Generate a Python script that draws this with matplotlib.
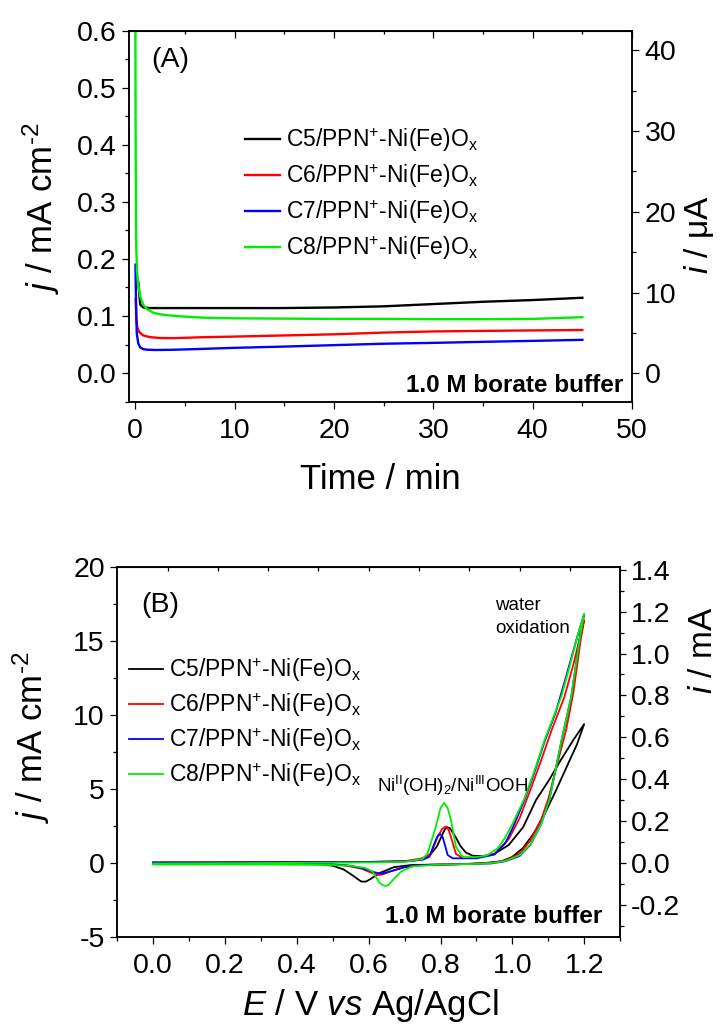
import matplotlib
matplotlib.use("Agg")
import matplotlib.pyplot as plt
from matplotlib.ticker import MultipleLocator, FormatStrFormatter

plt.rcParams['font.family'] = ['Liberation Sans', 'DejaVu Sans']
plt.rcParams['mathtext.fontset'] = 'custom'
plt.rcParams['mathtext.rm'] = 'Liberation Sans'
plt.rcParams['mathtext.it'] = 'Liberation Sans:italic'
plt.rcParams['mathtext.bf'] = 'Liberation Sans:bold'
plt.rcParams['axes.unicode_minus'] = False

labels = ['C5/PPN$^{+}$-Ni(Fe)O$_{\\mathrm{x}}$', 'C6/PPN$^{+}$-Ni(Fe)O$_{\\mathrm{x}}$',
          'C7/PPN$^{+}$-Ni(Fe)O$_{\\mathrm{x}}$', 'C8/PPN$^{+}$-Ni(Fe)O$_{\\mathrm{x}}$']
colors = ['black', 'red', 'blue', '#00ee00']

# ---- panel A : chronoamperometry (time / min, j / mA cm-2)
t_c5 = [0.3, 0.5, 0.8, 1.5, 3, 6, 10, 15, 20, 25, 30, 35, 40, 45]
j_c5 = [0.16, 0.12, 0.115, 0.114, 0.114, 0.114, 0.114, 0.114, 0.115, 0.117, 0.121, 0.125, 0.128, 0.132]
t_c6 = [0.05, 0.1, 0.2, 0.4, 0.8, 1.5, 2.5, 4, 7, 10, 15, 20, 25, 30, 35, 40, 45]
j_c6 = [0.13, 0.095, 0.08, 0.072, 0.066, 0.063, 0.0615, 0.0613, 0.063, 0.064, 0.066, 0.068, 0.071,
        0.073, 0.074, 0.0748, 0.0755]
t_c7 = [0.02, 0.08, 0.15, 0.3, 0.5, 0.8, 1.2, 2, 3.5, 6, 10, 15, 20, 25, 30, 35, 40, 45]
j_c7 = [0.19, 0.12, 0.07, 0.052, 0.045, 0.042, 0.041, 0.0405, 0.0408, 0.042, 0.0443, 0.0465, 0.049,
        0.0515, 0.053, 0.0548, 0.0565, 0.0583]
t_c8 = [0, 0.03, 0.06, 0.1, 0.17, 0.3, 0.5, 0.8, 1.2, 1.8, 2.5, 3.5, 5, 7, 10, 15, 20, 25, 30, 35, 40, 45]
j_c8 = [0.7, 0.45, 0.3, 0.22, 0.18, 0.155, 0.134, 0.12, 0.112, 0.106, 0.103, 0.101, 0.099, 0.097, 0.096,
        0.0955, 0.095, 0.095, 0.0945, 0.0945, 0.095, 0.098]

# ---- panel B : cyclic voltammograms (E / V, j / mA cm-2), forward then reverse scan
E_c5_f = [0.00, 0.20, 0.40, 0.60, 0.70, 0.74, 0.77, 0.79, 0.805, 0.812, 0.818, 0.825, 0.83, 0.843, 0.855,
          0.87, 0.89, 0.92, 0.95, 0.99, 1.03, 1.066, 1.10, 1.135, 1.17, 1.20]
j_c5_f = [0.0, 0.02, 0.04, 0.06, 0.1, 0.2, 0.5, 1.1, 1.9, 2.25, 2.4, 2.35, 2.2, 1.7, 1.15,
          0.7, 0.47, 0.45, 0.6, 1.2, 2.4, 4.24, 5.5, 6.94, 8.3, 9.37]
E_c5_r = [1.20, 1.18, 1.16, 1.12, 1.09, 1.06, 1.03, 1.00, 0.97, 0.93, 0.88, 0.80, 0.72, 0.67, 0.63,
          0.605, 0.595, 0.59, 0.58, 0.575, 0.555, 0.53, 0.50, 0.45, 0.30, 0.00]
j_c5_r = [9.37, 8.0, 6.94, 4.8, 3.3, 2.0, 1.0, 0.4, 0.1, 0.0, -0.08, -0.12, -0.15, -0.3, -0.7,
          -1.1, -1.24, -1.28, -1.27, -1.2, -0.85, -0.45, -0.2, -0.08, -0.03, -0.03]

E_c6_f = [0.00, 0.30, 0.60, 0.70, 0.75, 0.773, 0.792, 0.805, 0.815, 0.822, 0.829, 0.843, 0.86, 0.90,
          0.95, 0.99, 1.02, 1.05, 1.08, 1.11, 1.145, 1.17, 1.20]
j_c6_f = [0.0, 0.02, 0.05, 0.1, 0.3, 0.6, 1.75, 2.3, 2.45, 2.25, 1.75, 0.6, 0.35, 0.33,
          0.6, 1.6, 3.0, 4.9, 6.9, 9.0, 11.2, 13.4, 16.4]
E_c6_r = [1.20, 1.19, 1.17, 1.15, 1.12, 1.10, 1.08, 1.05, 1.02, 0.98, 0.94, 0.85, 0.75, 0.70, 0.665,
          0.64, 0.63, 0.62, 0.61, 0.58, 0.54, 0.50, 0.30, 0.00]
j_c6_r = [16.4, 15.0, 11.5, 9.0, 6.2, 4.3, 2.9, 1.5, 0.6, 0.15, 0.0, -0.1, -0.15, -0.3, -0.55,
          -0.78, -0.83, -0.8, -0.7, -0.4, -0.2, -0.12, -0.05, -0.05]

E_c7_f = [0.00, 0.30, 0.60, 0.70, 0.75, 0.769, 0.783, 0.792, 0.799, 0.805, 0.811, 0.82, 0.834, 0.90,
          0.95, 0.98, 1.00, 1.033, 1.06, 1.09, 1.12, 1.15, 1.18, 1.20]
j_c7_f = [0.02, 0.03, 0.05, 0.08, 0.2, 0.4, 1.31, 1.8, 1.94, 1.8, 1.31, 0.52, 0.3, 0.3,
          0.55, 1.3, 2.3, 4.2, 6.0, 8.2, 10.1, 12.6, 15.2, 16.8]
E_c7_r = [1.20, 1.19, 1.164, 1.14, 1.103, 1.08, 1.05, 1.02, 0.98, 0.94, 0.85, 0.75, 0.70, 0.665,
          0.645, 0.635, 0.625, 0.61, 0.58, 0.54, 0.50, 0.30, 0.00]
j_c7_r = [16.8, 15.6, 11.2, 8.6, 4.24, 2.6, 1.2, 0.45, 0.1, -0.05, -0.1, -0.15, -0.3, -0.55,
          -0.68, -0.72, -0.7, -0.6, -0.35, -0.18, -0.1, -0.03, 0.0]

E_c8_f = [0.00, 0.30, 0.60, 0.70, 0.75, 0.764, 0.787, 0.80, 0.81, 0.82, 0.829, 0.843, 0.862, 0.90,
          0.93, 0.96, 0.98, 1.00, 1.033, 1.06, 1.09, 1.136, 1.16, 1.18, 1.20]
j_c8_f = [-0.05, -0.02, 0.02, 0.06, 0.25, 0.63, 2.43, 3.7, 4.05, 3.7, 2.89, 1.08, 0.38, 0.38,
          0.5, 1.0, 1.7, 2.6, 4.3, 6.1, 8.3, 11.2, 13.3, 15.2, 16.8]
E_c8_r = [1.20, 1.19, 1.164, 1.14, 1.103, 1.08, 1.05, 1.02, 0.98, 0.95, 0.90, 0.80, 0.72, 0.69,
          0.67, 0.655, 0.648, 0.64, 0.63, 0.611, 0.59, 0.55, 0.50, 0.30, 0.00]
j_c8_r = [16.8, 15.5, 11.2, 8.6, 4.24, 2.6, 1.2, 0.5, 0.12, 0.0, -0.08, -0.12, -0.25, -0.6,
          -1.1, -1.5, -1.57, -1.52, -1.35, -0.6, -0.35, -0.2, -0.15, -0.12, -0.12]

cv_E = [E_c5_f + E_c5_r, E_c6_f + E_c6_r, E_c7_f + E_c7_r, E_c8_f + E_c8_r]
cv_j = [j_c5_f + j_c5_r, j_c6_f + j_c6_r, j_c7_f + j_c7_r, j_c8_f + j_c8_r]

TICK = 20.5
LAB = 25

fig = plt.figure(figsize=(7.22, 10.32), dpi=100)


def style_axes(ax, ax2):
    ax.tick_params(axis='both', which='major', direction='out', length=5, width=0.9,
                   labelsize=TICK, pad=4, top=False, right=False)
    ax.tick_params(axis='both', which='minor', direction='out', length=2.8, width=0.9,
                   top=False, right=False)
    ax.tick_params(axis='x', which='major', pad=7)
    ax2.tick_params(axis='y', which='major', direction='out', length=5, width=0.9,
                    labelsize=TICK, pad=4)
    ax2.tick_params(axis='y', which='minor', direction='out', length=2.8, width=0.9)
    for a in (ax, ax2):
        for s in a.spines.values():
            s.set_linewidth(1.1)


# ================= panel A
axA = fig.add_axes([0.1791, 0.6108, 0.6963, 0.3595])
axA.plot(t_c5, j_c5, color=colors[0], lw=1.7, label=labels[0])
axA.plot(t_c6, j_c6, color=colors[1], lw=1.7, label=labels[1])
axA.plot(t_c7, j_c7, color=colors[2], lw=1.7, label=labels[2])
axA.plot(t_c8, j_c8, color=colors[3], lw=1.7, label=labels[3])
axA.set_xlim(-0.6, 50)
axA.set_ylim(-0.05, 0.6)
axA.xaxis.set_major_locator(MultipleLocator(10))
axA.xaxis.set_minor_locator(MultipleLocator(5))
axA.yaxis.set_major_locator(MultipleLocator(0.1))
axA.yaxis.set_minor_locator(MultipleLocator(0.05))
axA.yaxis.set_major_formatter(FormatStrFormatter('%.1f'))
axA2 = axA.twinx()
axA2.set_ylim(-3.52, 42.45)
axA2.yaxis.set_major_locator(MultipleLocator(10))
axA2.yaxis.set_minor_locator(MultipleLocator(5))
style_axes(axA, axA2)
topA = axA.secondary_xaxis('top')
topA.xaxis.set_major_locator(MultipleLocator(10))
topA.xaxis.set_minor_locator(MultipleLocator(5))
topA.tick_params(which='major', direction='in', length=5, width=0.9, labeltop=False)
topA.tick_params(which='minor', direction='in', length=2, width=0.9)

axA.legend(loc='upper left', bbox_to_anchor=(0.231, 0.743), frameon=False, fontsize=16.5,
           handlelength=1.5, handletextpad=0.25, borderpad=0, borderaxespad=0, labelspacing=0.35)
axA.text(0.043, 0.921, '(A)', transform=axA.transAxes, fontsize=20.5, ha='left', va='center')
axA.text(0.983, 0.027, '1.0 M borate buffer', transform=axA.transAxes, fontsize=17.5,
         fontweight='bold', ha='right', va='baseline')
axA.text(0.499, -0.211, 'Time / min', transform=axA.transAxes, fontsize=LAB, ha='center', va='center')
axA.text(-0.176, 0.52, '$j$ / mA cm$^{\\text{-2}}$', transform=axA.transAxes, fontsize=LAB,
         rotation=90, ha='center', va='center')
axA.text(1.133, 0.449, '$i$ / μA', transform=axA.transAxes, fontsize=24,
         rotation=90, ha='center', va='center')

# ================= panel B
axB = fig.add_axes([0.1625, 0.0923, 0.6963, 0.3585])
for k in range(4):
    axB.plot(cv_E[k], cv_j[k], color=colors[k], lw=1.3, label=labels[k])
axB.set_xlim(-0.1, 1.3)
axB.set_ylim(-5, 20)
axB.xaxis.set_major_locator(MultipleLocator(0.2))
axB.xaxis.set_minor_locator(MultipleLocator(0.1))
axB.xaxis.set_major_formatter(FormatStrFormatter('%.1f'))
axB.yaxis.set_major_locator(MultipleLocator(5))
axB.yaxis.set_minor_locator(MultipleLocator(2.5))
axB2 = axB.twinx()
axB2.set_ylim(-0.3537, 1.4146)
axB2.yaxis.set_major_locator(MultipleLocator(0.2))
axB2.yaxis.set_minor_locator(MultipleLocator(0.1))
axB2.yaxis.set_major_formatter(FormatStrFormatter('%.1f'))
style_axes(axB, axB2)
axB2.tick_params(axis='y', which='major', length=4)
topB = axB.secondary_xaxis('top')
topB.set_xticks([-0.1 + 0.14 * n for n in range(1, 10)])
topB.tick_params(which='major', direction='in', length=3, width=0.9, labeltop=False)

axB.legend(loc='upper left', bbox_to_anchor=(0.0233, 0.758), frameon=False, fontsize=16.5,
           handlelength=1.5, handletextpad=0.25, borderpad=0, borderaxespad=0, labelspacing=0.3)
axB.text(0.0485, 0.896, '(B)', transform=axB.transAxes, fontsize=20.5, ha='left', va='center')
axB.text(0.9636, 0.0378, '1.0 M borate buffer', transform=axB.transAxes, fontsize=17.5,
         fontweight='bold', ha='right', va='baseline')
axB.text(0.751, 0.896, 'water', transform=axB.transAxes, fontsize=13.5, ha='left', va='center')
axB.text(0.751, 0.832, 'oxidation', transform=axB.transAxes, fontsize=13.5, ha='left', va='center')
axB.text(0.516, 0.392, 'Ni$^{\\mathrm{II}}$(OH)$_{2}$/Ni$^{\\mathrm{III}}$OOH', transform=axB.transAxes,
         fontsize=13.5, ha='left', va='baseline')
axB.text(0.503, -0.185, '$E$ / V $vs$ Ag/AgCl', transform=axB.transAxes, fontsize=LAB,
         ha='center', va='center')
axB.text(-0.171, 0.54, '$j$ / mA cm$^{\\text{-2}}$', transform=axB.transAxes, fontsize=LAB,
         rotation=90, ha='center', va='center')
axB.text(1.165, 0.775, '$i$ / mA', transform=axB.transAxes, fontsize=24,
         rotation=90, ha='center', va='center')

fig.savefig('out.png', dpi=100)
